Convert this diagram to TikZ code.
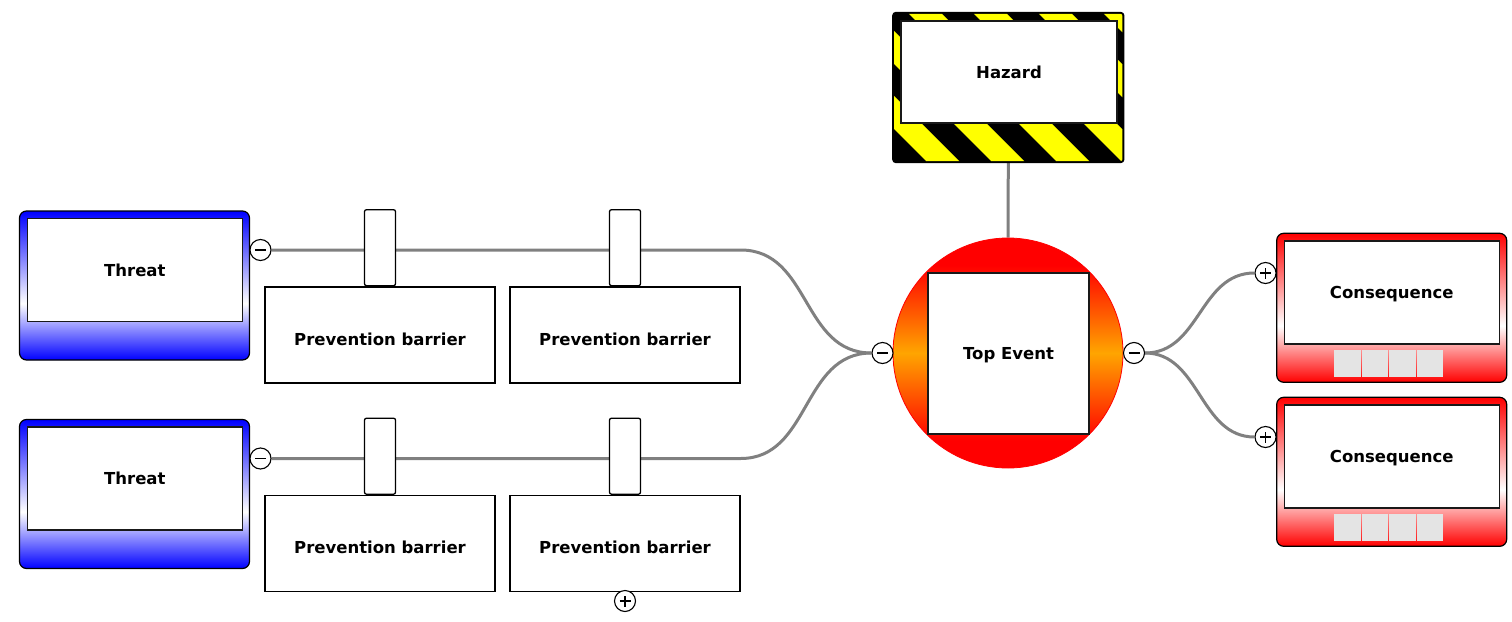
\documentclass[tikz,border=0pt]{standalone}
\usepackage{fontspec}
\setmainfont{DejaVu Sans}
\pgfdeclarelayer{bg}
\pgfsetlayers{bg,main}
\definecolor{linkgray}{HTML}{808080}
\definecolor{tallygray}{HTML}{E4E4E4}
\definecolor{hazyellow}{HTML}{FFFF00}
\definecolor{evorange}{HTML}{FFA500}
% colour -> white -> colour, bottom to top (box spans 25bp..75bp)
\pgfdeclareverticalshading{threatfade}{100bp}{color(0bp)=(blue); color(25bp)=(blue); color(44bp)=(white); color(75bp)=(blue); color(100bp)=(blue)}
\pgfdeclareverticalshading{consfade}{100bp}{color(0bp)=(red); color(25bp)=(red); color(44bp)=(white); color(75bp)=(red); color(100bp)=(red)}
\pgfdeclareverticalshading{eventfade}{100bp}{color(0bp)=(red); color(31bp)=(red); color(50bp)=(evorange); color(69bp)=(red); color(100bp)=(red)}
\begin{document}
\begin{tikzpicture}[x=1pt,y=-1pt,
  lbl/.style={font=\fontsize{16.5}{20}\selectfont\bfseries, text=black,
    text height=12pt, text depth=0pt},
  outerframe/.style={draw=black, line width=1.2pt, rounded corners=7pt,
    minimum width=230pt, minimum height=149pt, inner sep=0pt},
  threatframe/.style={outerframe, shading=threatfade},
  consframe/.style={outerframe, shading=consfade},
  innerbox/.style={lbl, draw=black!90, line width=1.5pt, fill=white,
    minimum width=215pt, minimum height=103pt, inner sep=0pt},
  barrierbox/.style={lbl, text height=20pt, draw=black, line width=1.3pt, fill=white,
    minimum width=230pt, minimum height=96pt, inner sep=0pt},
  tabbox/.style={draw=black, line width=1.3pt, fill=white, rounded corners=2pt,
    minimum width=31pt, minimum height=76pt, inner sep=0pt, anchor=south},
  link/.style={draw=linkgray, line width=3pt},
  toggle/.style={circle, draw=black, line width=1.1pt, fill=white,
    minimum size=21pt, inner sep=0pt},
  minus/.style={toggle, path picture={
    \draw[line width=1.1pt] ([xshift=-5.5pt]path picture bounding box.center)
      -- ([xshift=5.5pt]path picture bounding box.center);}},
  plus/.style={toggle, path picture={
    \draw[line width=1.1pt] ([xshift=-5.5pt]path picture bounding box.center)
      -- ([xshift=5.5pt]path picture bounding box.center);
    \draw[line width=1.1pt] ([yshift=-5.5pt]path picture bounding box.center)
      -- ([yshift=5.5pt]path picture bounding box.center);}},
  tally/.style={fill=tallygray, minimum width=26.5pt, minimum height=27pt, inner sep=0pt}
]
\useasboundingbox (0,0) rectangle (1512,621);

% ---------- hazard sign ----------
\node[draw=black, fill=black, line width=1.2pt, rounded corners=3pt,
  minimum width=231pt, minimum height=150pt, inner sep=0pt] (hz) at (1008.3,87.5) {};
\begin{scope}
  \clip[rounded corners=2pt] ([shift={(2,2)}]hz.north west) rectangle ([shift={(-2,-2)}]hz.south east);
  \foreach \k in {-4,...,4}{
    \pgfmathsetmacro{\c}{895+65*\k}
    \fill[hazyellow] (\c+10,10) -- (\c+43,10) -- (\c+203,170) -- (\c+170,170) -- cycle;
  }
\end{scope}
\node[innerbox, minimum width=216pt, minimum height=102pt] (hzin) at (1009,72) {Hazard};

% ---------- top event ----------
\node[circle, draw=red, line width=0.8pt, shading=eventfade,
  minimum size=230pt, inner sep=0pt] (te) at (1008,353) {};
\node[innerbox, minimum width=161pt, minimum height=161pt] (tein) at (1008.5,353.5) {Top Event};
\node[minus] (tel) at (882.5,353) {};
\node[minus] (ter) at (1134,353) {};

% ---------- threats ----------
\node[threatframe] (th1) at (134.5,285.5) {};
\node[innerbox] (th1in) at (134.8,270) {Threat};
\node[minus] (th1t) at (260.5,250) {};
\node[threatframe] (th2) at (134.5,494) {};
\node[innerbox] (th2in) at (134.8,478.5) {Threat};
\node[minus] (th2t) at (260.5,458.5) {};

% ---------- prevention barriers ----------
\node[barrierbox] (b11) at (380,335) {Prevention barrier};
\node[barrierbox] (b12) at (625,335) {Prevention barrier};
\node[barrierbox] (b21) at (380,543.5) {Prevention barrier};
\node[barrierbox] (b22) at (625,543.5) {Prevention barrier};
\node[tabbox] (tab11) at (b11.north) {};
\node[tabbox] (tab12) at (b12.north) {};
\node[tabbox] (tab21) at (b21.north) {};
\node[tabbox] (tab22) at (b22.north) {};
\node[plus] (b22t) at (625,601) {};

% ---------- consequences ----------
\node[consframe] (c1) at (1391.7,307.8) {};
\node[innerbox] (c1in) at (1391.8,292.3) {Consequence};
\node[plus] (c1t) at (1265.5,273) {};
\node[consframe] (c2) at (1391.7,471.8) {};
\node[innerbox] (c2in) at (1391.8,456.3) {Consequence};
\node[plus] (c2t) at (1265.5,437) {};
\foreach \i in {1,2,3,4}{
  \node[tally] (c1s\i) at (1347.25+27.5*\i-27.5,363.5) {};
  \node[tally] (c2s\i) at (1347.25+27.5*\i-27.5,527.5) {};
}

% ---------- connectors ----------
\begin{pgfonlayer}{bg}
  \draw[link] (hz.south) -- (te.north);
  \draw[link] (th1t.east) -- (th1t -| b12.east)
    .. controls +(70,0) and +(-70,0) .. (tel.west);
  \draw[link] (th2t.east) -- (th2t -| b22.east)
    .. controls +(70,0) and +(-70,0) .. (tel.west);
  \draw[link] (ter.east) .. controls +(55,0) and +(-55,0) .. (c1t.west);
  \draw[link] (ter.east) .. controls +(55,0) and +(-55,0) .. (c2t.west);
\end{pgfonlayer}
\end{tikzpicture}
\end{document}
